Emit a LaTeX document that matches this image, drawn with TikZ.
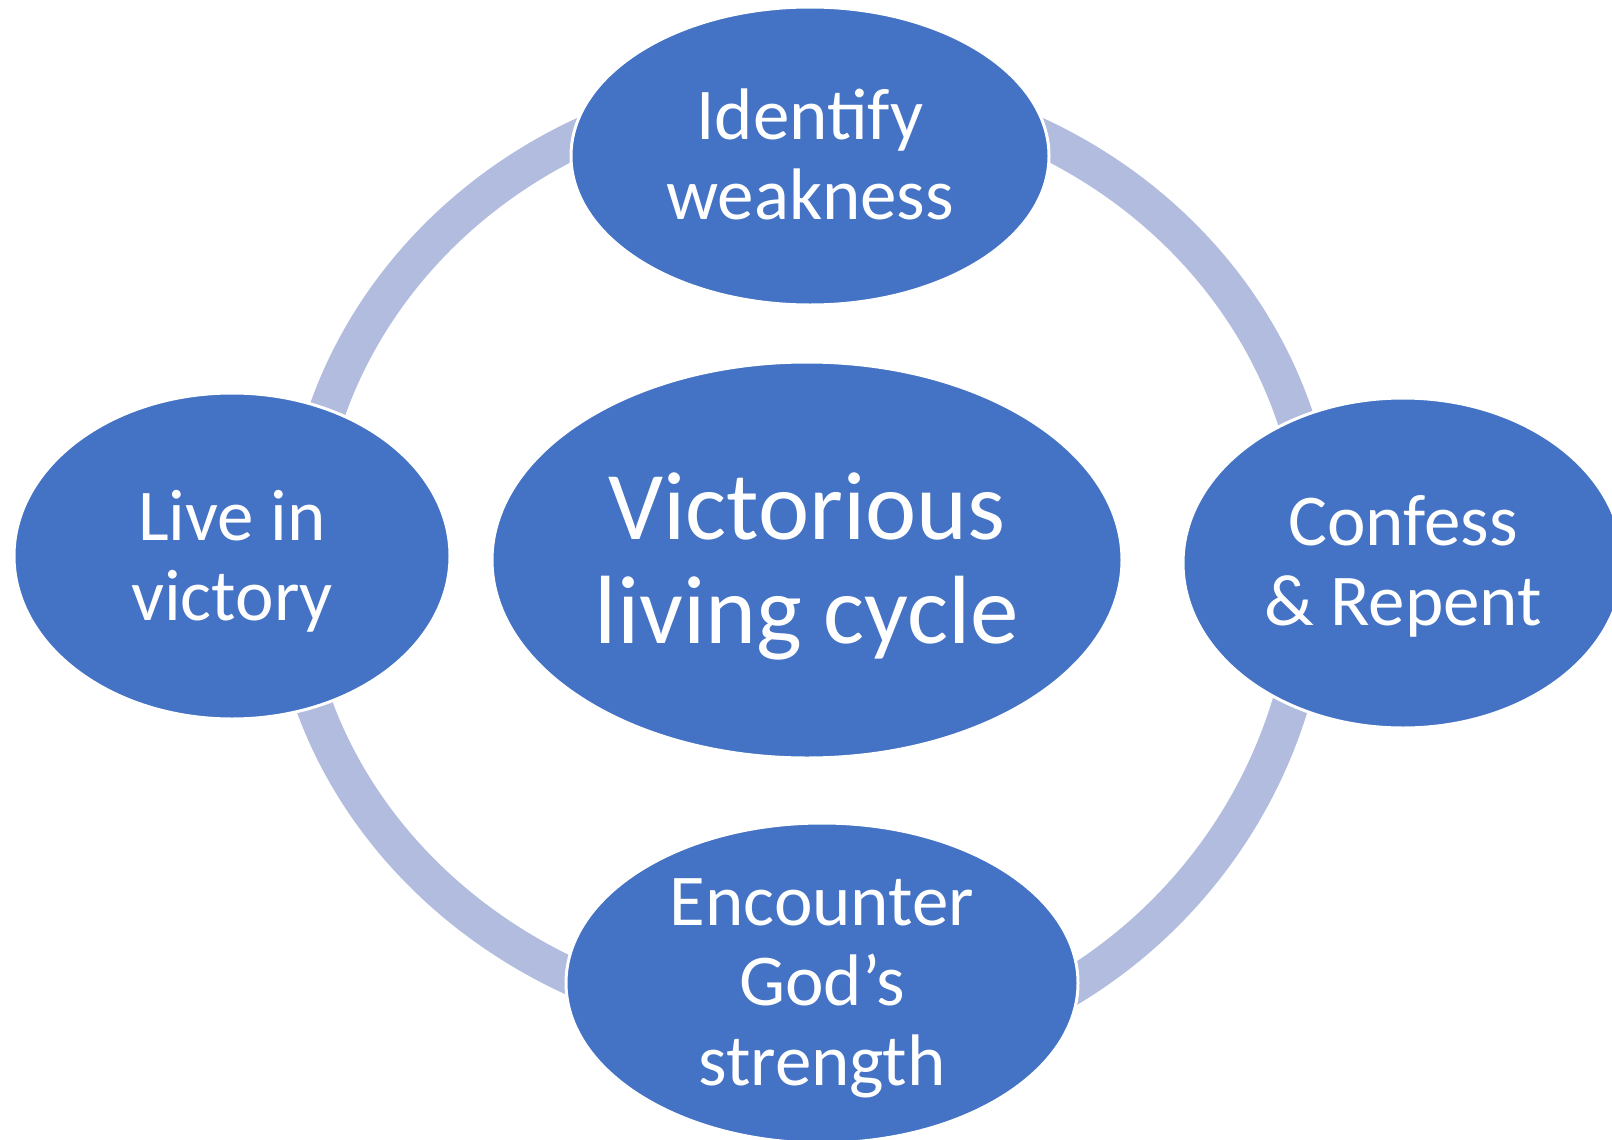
\documentclass[tikz,border=0pt]{standalone}
\usepackage{fontspec}
\setmainfont{Carlito}
\usetikzlibrary{shapes.geometric}
\definecolor{cycleblue}{RGB}{68,114,196}
\definecolor{ringblue}{RGB}{177,188,222}
\tikzset{cycle_ellipse/.style={ellipse, inner sep=0pt, outer sep=0pt, fill=cycleblue, draw=white, line width=1.5pt}}
\tikzset{cycle_text/.style={anchor=base, align=center, text=white, inner sep=0pt, font=\fontsize{36.5}{40}\selectfont}}
\tikzset{hub_text/.style={anchor=base, align=center, text=white, inner sep=0pt, font=\fontsize{48.5}{52}\selectfont}}
\tikzset{ring_arc/.style={draw=ringblue, line width=18.5pt}}
\begin{document}
\begin{tikzpicture}[x=0.5pt,y=-0.5pt]
    \useasboundingbox (0,0) rectangle (1612,1140);
    \coordinate (ring_center) at (810,558);
    % ring behind the ellipses, one piece per quarter
    \draw[ring_arc] ([xshift=254pt]ring_center) arc [start angle=0, end angle=180, x radius=254pt, y radius=236pt];
    \draw[ring_arc] ([xshift=-261pt]ring_center) arc [start angle=180, end angle=270, x radius=261pt, y radius=235.3pt];
    \draw[ring_arc] ([yshift=-251pt]ring_center) arc [start angle=270, end angle=360, radius=251pt];
    \node[cycle_ellipse, minimum width=315pt, minimum height=198pt] (hub) at (807,560) {};
    \node[cycle_ellipse, minimum width=239pt, minimum height=149pt] (identify) at (810,156) {};
    \node[cycle_ellipse, minimum width=220pt, minimum height=165pt] (confess) at (1403,563) {};
    \node[cycle_ellipse, minimum width=256pt, minimum height=160pt] (encounter) at (822,983) {};
    \node[cycle_ellipse, minimum width=218pt, minimum height=163pt] (live) at (232,556) {};
    % anchor=base sits on the last line
    \node[hub_text] (hub_label) at ([yshift=-41.5pt]hub.center) {Victorious\\living cycle};
    \node[cycle_text] (identify_label) at ([yshift=-31.5pt]identify.center) {Identify\\weakness};
    \node[cycle_text] (confess_label) at ([yshift=-31pt]confess.center) {Confess\\\& Repent};
    \node[cycle_text] (encounter_label) at ([yshift=-51pt]encounter.center) {Encounter\\God’s\\strength};
    \node[cycle_text] (live_label) at ([yshift=-32pt]live.center) {Live in\\victory};
  \end{tikzpicture}
\end{document}
